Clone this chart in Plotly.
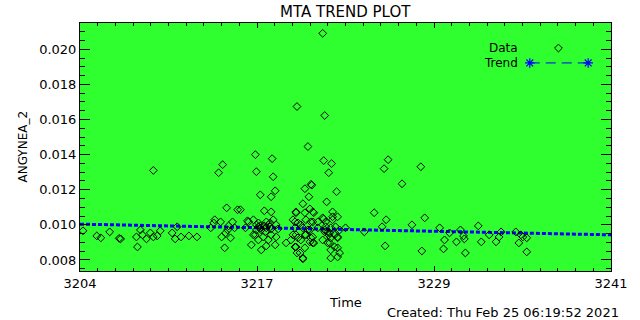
import plotly.graph_objects as go

# ---------------- data ----------------
data_time = [
    3204.21, 3205.17, 3205.45, 3206.07, 3206.73, 3206.83, 3207.93, 3208.00, 3208.21, 3208.35,
    3208.63, 3208.90, 3209.11, 3209.38, 3209.59, 3209.11, 3210.42, 3210.63, 3210.77, 3211.04,
    3211.59, 3212.15, 3213.11, 3213.39, 3213.80, 3213.87, 3214.08, 3214.15, 3214.29, 3214.63,
    3214.77, 3215.67, 3213.94, 3213.66, 3214.22, 3214.98, 3213.32, 3214.49, 3214.36,
    # middle scattered
    3216.22, 3217.39, 3220.98, 3216.29, 3217.46, 3220.10, 3220.15, 3219.67, 3217.60, 3217.32,
    3216.56, 3219.95, 3221.19, 3219.53, 3215.18, 3220.02, 3216.84, 3219.05, 3220.29, 3217.32,
    3220.98, 3219.53, 3218.36, 3216.63, 3215.94, 3219.12,
    # outliers
    3220.91, 3219.12, 3221.05, 3219.88,
    # right part
    3221.53, 3221.33, 3225.47, 3225.19, 3226.44, 3221.88, 3221.60, 3224.50, 3225.33, 3227.13,
    3223.81, 3225.26, 3222.50, 3225.05, 3221.47, 3222.09, 3220.91,
    3227.75, 3228.02, 3229.06, 3229.75, 3229.40, 3229.33, 3227.82, 3230.23, 3230.51, 3230.72,
    3230.78, 3230.85, 3231.75, 3231.96, 3232.51, 3232.99, 3233.34, 3233.20, 3234.37,
    3234.72, 3234.58, 3235.13, 3235.13, 3234.86,
    # cluster A
    3216.08, 3215.74, 3216.43, 3216.98, 3217.46, 3217.67, 3216.56, 3217.25, 3216.29, 3216.91,
    3216.08, 3217.32, 3217.67, 3216.77, 3216.43, 3217.12, 3217.60, 3216.98, 3216.22, 3215.53,
    3217.81, 3216.43, 3216.56, 3217.12, 3216.98, 3216.63, 3217.25, 3216.29, 3216.84, 3217.32,
    # cluster B
    3218.84, 3219.19, 3219.74, 3220.22, 3218.98, 3219.53, 3220.02, 3220.57, 3219.05, 3219.74,
    3220.22, 3218.70, 3219.39, 3220.02, 3219.05, 3219.67, 3219.33, 3220.29, 3220.57, 3219.05,
    3219.67, 3220.22, 3218.98, 3220.08, 3219.39, 3219.88, 3218.84, 3219.19, 3219.67, 3220.08,
    3218.98, 3220.22, 3219.53,
    # cluster C
    3220.91, 3221.60, 3221.95, 3221.12, 3221.47, 3221.81, 3221.05, 3221.40, 3221.74, 3222.09,
    3221.47, 3221.95, 3221.26, 3221.74, 3221.47, 3221.95, 3221.12, 3221.60, 3221.05, 3221.95,
    3221.40, 3221.95, 3221.26, 3221.33,
]
data_value = [
    0.00966, 0.00937, 0.00926, 0.00960, 0.00923, 0.00920, 0.00931, 0.00874, 0.00971, 0.00943,
    0.00920, 0.00954, 0.00931, 0.00937, 0.00966, 0.01310, 0.00954, 0.00920, 0.00989, 0.00931,
    0.00937, 0.00931, 0.00983, 0.01029, 0.01017, 0.00931, 0.00869, 0.00954, 0.00971, 0.01017,
    0.00983, 0.01023, 0.01343, 0.01297, 0.01097, 0.01086, 0.01011, 0.00926, 0.00994,
    # middle scattered
    0.01400, 0.01377, 0.01366, 0.01303, 0.01274, 0.01231, 0.01226, 0.01206, 0.01194, 0.01160,
    0.01171, 0.01160, 0.01131, 0.01120, 0.01086, 0.01091, 0.01080, 0.01069, 0.01069, 0.01074,
    0.01034, 0.00806, 0.00897, 0.00857, 0.00886, 0.00840,
    # outliers
    0.02091, 0.01674, 0.01623, 0.01446,
    # right part
    0.01349, 0.01297, 0.01371, 0.01320, 0.01234, 0.01189, 0.01074, 0.01069, 0.01029, 0.01000,
    0.00960, 0.00880, 0.00983, 0.00989, 0.00811, 0.00840, 0.00914,
    0.01331, 0.01040, 0.00983, 0.00954, 0.00914, 0.00863, 0.00851, 0.00903, 0.00971, 0.00937,
    0.00920, 0.00840, 0.00994, 0.00903, 0.00943, 0.00903, 0.00960, 0.00931, 0.00960,
    0.00943, 0.00897, 0.00926, 0.00846, 0.00931,
    # cluster A
    0.01029, 0.01017, 0.01011, 0.01017, 0.01029, 0.01000, 0.00983, 0.00989, 0.00971, 0.00960,
    0.00943, 0.00943, 0.00931, 0.00931, 0.00914, 0.00914, 0.00886, 0.00880, 0.00943, 0.00983,
    0.00977, 0.00989, 0.00994, 0.01000, 0.00983, 0.00971, 0.01011, 0.01000, 0.00994, 0.00977,
    # cluster B
    0.01029, 0.01011, 0.01029, 0.01017, 0.00983, 0.00983, 0.00971, 0.00983, 0.00943, 0.00943,
    0.00931, 0.00914, 0.00914, 0.00903, 0.00874, 0.00869, 0.00840, 0.00897, 0.01017, 0.01074,
    0.01069, 0.01074, 0.01017, 0.01017, 0.01000, 0.00971, 0.00943, 0.00926, 0.00943, 0.00926,
    0.00874, 0.00897, 0.00811,
    # cluster C
    0.01040, 0.01029, 0.01046, 0.00989, 0.00983, 0.00989, 0.00960, 0.00954, 0.00943, 0.00971,
    0.00926, 0.00926, 0.00897, 0.00874, 0.00857, 0.00869, 0.01017, 0.01046, 0.00971, 0.00931,
    0.00897, 0.00817, 0.00960, 0.00943,
]
trend_time = [3204.0, 3241.0]
trend_value = [0.01004, 0.00943]

x_tick_labels = ["3204", "3217", "3229", "3241"]
y_tick_values = [0.008, 0.010, 0.012, 0.014, 0.016, 0.018, 0.020]
y_tick_labels = ["0.008", "0.010", "0.012", "0.014", "0.016", "0.018", "0.020"]

title_text = "MTA TREND PLOT"
x_title = "Time"
y_title = "ANGYNEA_2"
created_text = "Created: Thu Feb 25 06:19:52 2021"

# ---------------- styling ----------------
X_RANGE = [3204.0, 3241.0]
Y_RANGE = [0.00737, 0.0215]
BG = "#2fff2f"
FONT = "DejaVu Sans"

n_major = len(x_tick_labels) - 1
x_tick_pos = [X_RANGE[0] + i * (X_RANGE[1] - X_RANGE[0]) / n_major for i in range(n_major + 1)]

fig = go.Figure()

fig.add_trace(go.Scatter(
    x=trend_time, y=trend_value, mode="lines",
    line=dict(color="#0000ff", width=3, dash="4px,2px"),
    hoverinfo="skip", showlegend=False,
))
fig.add_trace(go.Scatter(
    x=data_time, y=data_value, mode="markers",
    marker=dict(symbol="diamond-open", size=6, color="black", line=dict(width=1, color="black")),
    hoverinfo="skip", showlegend=False,
))

# legend samples on an overlay axis (paper-like 0..1 coordinates)
fig.add_trace(go.Scatter(
    x=[0.901], y=[0.899], xaxis="x2", yaxis="y2", mode="markers",
    marker=dict(symbol="diamond-open", size=6, color="black", line=dict(width=1, color="black")),
    hoverinfo="skip", showlegend=False,
))
fig.add_trace(go.Scatter(
    x=[0.847, 0.957], y=[0.839, 0.839], xaxis="x2", yaxis="y2", mode="lines+markers",
    line=dict(color="#0000ff", width=1, dash="10px,6px"),
    marker=dict(symbol="asterisk-open", size=8, color="#0000ff", line=dict(width=1.2, color="#0000ff")),
    hoverinfo="skip", showlegend=False,
))

tickfont = dict(family=FONT, size=13, color="black")

fig.update_layout(
    width=640, height=320,
    margin=dict(l=80, r=24, t=23, b=49),
    paper_bgcolor="white",
    plot_bgcolor=BG,
    font=dict(family=FONT, color="black"),
    showlegend=False,
    xaxis=dict(
        range=X_RANGE, showgrid=False, zeroline=False,
        showline=True, linecolor="black", linewidth=1, mirror="allticks",
        tickmode="array", tickvals=x_tick_pos, ticktext=x_tick_labels,
        ticks="inside", ticklen=5, tickwidth=1, tickcolor="black",
        tickfont=tickfont,
        minor=dict(tickmode="linear", tick0=X_RANGE[0], dtick=(X_RANGE[1] - X_RANGE[0]) / (n_major * 10),
                   ticks="inside", ticklen=3, tickwidth=1, tickcolor="black", showgrid=False),
    ),
    yaxis=dict(
        range=Y_RANGE, showgrid=False, zeroline=False,
        showline=True, linecolor="black", linewidth=1, mirror="allticks",
        tickmode="array", tickvals=y_tick_values, ticktext=y_tick_labels,
        ticks="inside", ticklen=10, tickwidth=1, tickcolor="black",
        tickfont=tickfont,
        minor=dict(tickmode="linear", tick0=0.0, dtick=0.0005,
                   ticks="inside", ticklen=5, tickwidth=1, tickcolor="black", showgrid=False),
    ),
    xaxis2=dict(range=[0, 1], overlaying="x", visible=False, fixedrange=True),
    yaxis2=dict(range=[0, 1], overlaying="y", visible=False, fixedrange=True),
    annotations=[
        dict(text=title_text, xref="paper", yref="paper", x=0.5, y=(271 - 12) / 248,
             xanchor="center", yanchor="middle", showarrow=False,
             font=dict(family=FONT, size=15, color="black")),
        dict(text=x_title, xref="paper", yref="paper", x=0.5, y=(271 - 302) / 248,
             xanchor="center", yanchor="middle", showarrow=False,
             font=dict(family=FONT, size=13, color="black")),
        dict(text=created_text, xref="paper", yref="paper", x=(626 - 80) / 536, y=(271 - 312) / 248,
             xanchor="right", yanchor="middle", showarrow=False,
             font=dict(family=FONT, size=13, color="black")),
        dict(text=y_title, xref="paper", yref="paper", x=(22 - 80) / 536, y=0.5, textangle=-90,
             xanchor="center", yanchor="middle", showarrow=False,
             font=dict(family=FONT, size=12, color="black")),
        dict(text="Data", xref="paper", yref="paper", x=(524 - 80) / 536, y=0.899,
             xanchor="right", yanchor="middle", showarrow=False,
             font=dict(family=FONT, size=12, color="black")),
        dict(text="Trend", xref="paper", yref="paper", x=(524 - 80) / 536, y=0.839,
             xanchor="right", yanchor="middle", showarrow=False,
             font=dict(family=FONT, size=12, color="black")),
    ],
)

fig.write_html("out.html")
